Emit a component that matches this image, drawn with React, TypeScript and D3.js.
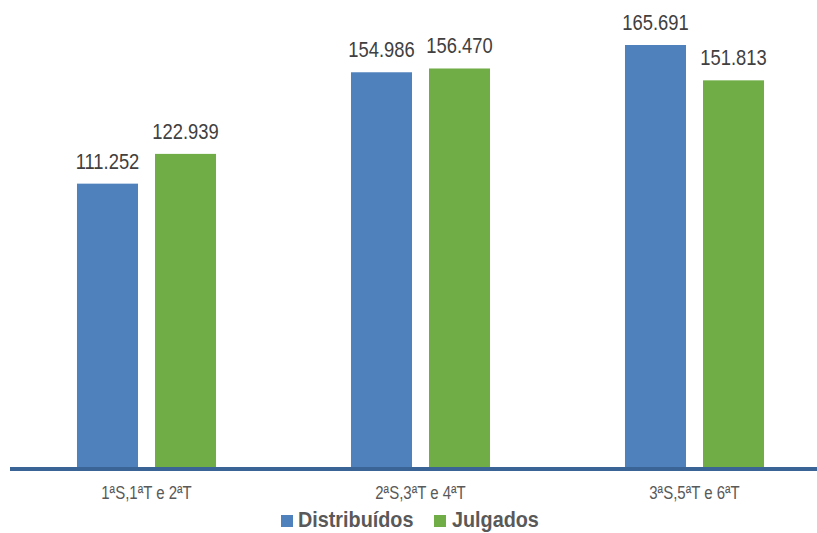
import React from "react";
import * as d3 from "d3";

const categories = ["1ªS,1ªT e 2ªT", "2ªS,3ªT e 4ªT", "3ªS,5ªT e 6ªT"];
const seriesNames = ["Distribuídos", "Julgados"];
const distribuidos = [111252, 154986, 165691];
const julgados = [122939, 156470, 151813];
const colors = ["#4F81BD", "#70AD47"];

const W = 817;
const H = 533;
const FONT = "'Liberation Sans', Arial, sans-serif";

function NarrowText(props: {
  x: number; y: number; sx: number; size: number; anchor?: string; weight?: string; fill: string; children: React.ReactNode;
}) {
  return (
    <text
      transform={`translate(${props.x},${props.y}) scale(${props.sx},1)`}
      textAnchor={props.anchor || "start"}
      fontFamily={FONT}
      fontSize={props.size}
      fontWeight={props.weight || "normal"}
      fill={props.fill}
    >
      {props.children}
    </text>
  );
}

export default function App() {
  const baseY = 467;
  const x0 = d3.scaleBand<string>().domain(categories).range([9.5, 831.5]).paddingInner(0).paddingOuter(0);
  const x1 = d3.scaleBand<string>().domain(seriesNames).range([0, x0.bandwidth()]).paddingInner(0.218).paddingOuter(0.865);
  const y = d3.scaleLinear().domain([0, 165691]).range([baseY, 45]);
  const fmt = (v: number) => d3.format(",")(v).replace(/,/g, ".");
  const series = [distribuidos, julgados];

  return (
    <svg width={W} height={H} style={{ position: "absolute", left: 0, top: 0 }}>
      <rect width={W} height={H} fill="#fff" />
      {categories.map((c, i) => (
        <g key={c}>
          {series.map((s, j) => {
            const bx = (x0(c) as number) + (x1(seriesNames[j]) as number);
            return (
              <g key={j}>
                <rect x={bx} y={y(s[i])} width={x1.bandwidth()} height={baseY - y(s[i])} fill={colors[j]} />
                <NarrowText x={bx + x1.bandwidth() / 2} y={y(s[i]) - 15} sx={0.835} size={22} anchor="middle" fill="#404040">
                  {fmt(s[i])}
                </NarrowText>
              </g>
            );
          })}
          <NarrowText x={(x0(c) as number) + x0.bandwidth() / 2} y={499} sx={0.81} size={18.5} anchor="middle" fill="#595959">
            {c}
          </NarrowText>
        </g>
      ))}
      <line x1={10} x2={817} y1={469} y2={469} stroke="#3B6496" strokeWidth={4} />
      <g>
        <rect x={281} y={515} width={12} height={12} fill={colors[0]} />
        <NarrowText x={298} y={527} sx={0.9} size={22} weight="bold" fill="#595959">{seriesNames[0]}</NarrowText>
        <rect x={434} y={515} width={12} height={12} fill={colors[1]} />
        <NarrowText x={452} y={527} sx={0.9} size={22} weight="bold" fill="#595959">{seriesNames[1]}</NarrowText>
      </g>
    </svg>
  );
}
